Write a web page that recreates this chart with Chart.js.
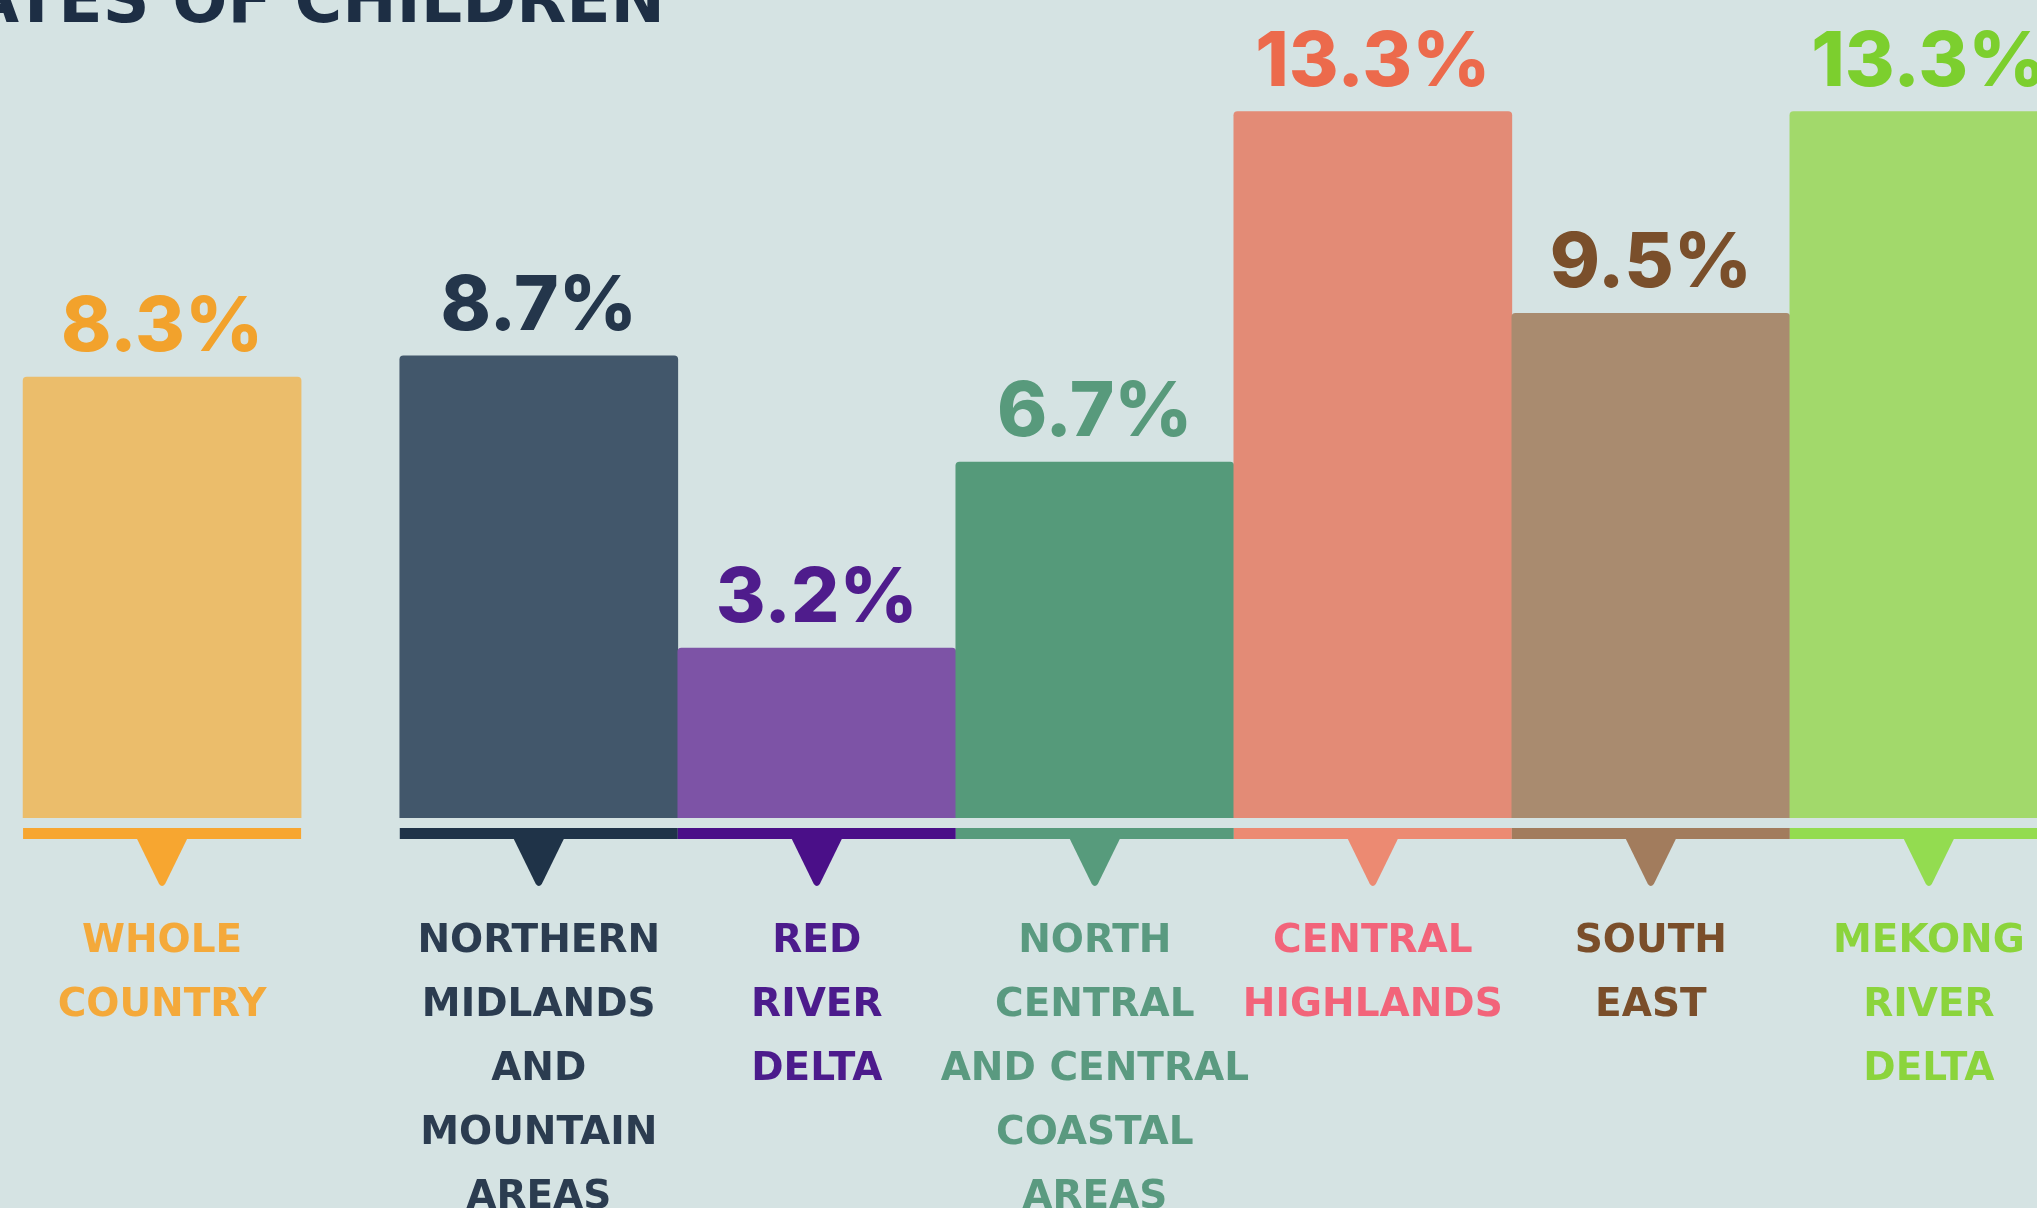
<!DOCTYPE html>
<html>
<head>
<meta charset="utf-8">
<script src="https://cdn.jsdelivr.net/npm/chart.js@4.4.1/dist/chart.umd.min.js"></script>
<style>
  html, body {
    margin: 0;
    padding: 0;
    overflow: hidden;
    background: #d5e3e3;
  }
  #wrap {
    position: relative;
    width: 2037px;
    height: 1208px;
    overflow: hidden;
  }
  #title {
    position: absolute;
    right: 1372px;
    top: -33px;
    font: bold 65px "DejaVu Sans", sans-serif;
    line-height: 65px;
    color: #1d2e44;
    white-space: nowrap;
  }
  #chart-box {
    position: absolute;
    left: 0;
    top: 0;
    width: 2037px;
    height: 1208px;
  }
</style>
</head>
<body>
<div id="wrap">
  <div id="title">RATES OF CHILDREN</div>
  <div id="chart-box"><canvas id="rateChart"></canvas></div>
</div>

<script>
// =========================
// DATA
// =========================

const regions = [
  ["WHOLE", "COUNTRY"],
  ["NORTHERN", "MIDLANDS", "AND", "MOUNTAIN", "AREAS"],
  ["RED", "RIVER", "DELTA"],
  ["NORTH", "CENTRAL", "AND CENTRAL", "COASTAL", "AREAS"],
  ["CENTRAL", "HIGHLANDS"],
  ["SOUTH", "EAST"],
  ["MEKONG", "RIVER", "DELTA"]
];

const rates = [8.3, 8.7, 3.2, 6.7, 13.3, 9.5, 13.3];

const valueLabels = ["8.3%", "8.7%", "3.2%", "6.7%", "13.3%", "9.5%", "13.3%"];

// =========================
// COLOURS
// =========================

const barColors =
  ["#ebbd6b", "#42576b", "#7d53a6", "#559a7a", "#e38b76", "#a98b6f", "#a2d96b"];

const lineColors =
  ["#f7a630", "#1f3348", "#4a0f88", "#579b7c", "#ec8a72", "#a27c5d", "#93dc50"];

const valueColors =
  ["#f2a22c", "#24364b", "#4f1c8c", "#589a7c", "#ec6a4c", "#7a4f2b", "#7ccf2e"];

const labelColors =
  ["#f4a93a", "#2b3c50", "#4c1b8c", "#5a9a80", "#f2647a", "#7a4e2a", "#8bd43c"];

// =========================
// LAYOUT (slot spacing)
// =========================

// whole country sits a bit apart from the regions
const firstGap = 0.355;

const slots =
  rates.map((v, i) => i === 0 ? 0 : i + firstGap);

// =========================
// PLUGINS
// =========================

// underline + pointer triangle below each bar, value above
const barDecor = {
  id: "barDecor",
  afterDatasetsDraw(chart)
  {
    const ctx = chart.ctx;
    const meta = chart.getDatasetMeta(0);

    meta.data.forEach((bar, i) =>
    {
      const half = bar.width / 2;
      const base = bar.base;

      ctx.save();

      // underline
      ctx.fillStyle = lineColors[i];
      ctx.fillRect(bar.x - half, base + 10, bar.width, 11);

      // pointer
      ctx.beginPath();
      ctx.moveTo(bar.x - 25, base + 21);
      ctx.lineTo(bar.x + 25, base + 21);
      ctx.lineTo(bar.x + 3, base + 66);
      ctx.quadraticCurveTo(bar.x, base + 70, bar.x - 3, base + 66);
      ctx.closePath();
      ctx.fill();

      // value
      ctx.fillStyle = valueColors[i];
      ctx.font = "800 76px Inter, sans-serif";
      ctx.textAlign = "center";
      ctx.textBaseline = "alphabetic";
      ctx.fillText(valueLabels[i], bar.x, bar.y - 26);

      ctx.restore();
    });
  }
};

// =========================
// CHART
// =========================

const ctx =
  document.getElementById("rateChart");

const rateChart =
new Chart(ctx, {
  type: "bar",
  data: {
    datasets: [
      {
        data: rates.map((v, i) => ({ x: slots[i], y: v })),
        backgroundColor: barColors,
        borderRadius: 4,
        borderSkipped: "bottom",
        categoryPercentage: 1,
        barPercentage: 1
      }
    ]
  },
  options: {
    responsive: true,
    maintainAspectRatio: false,
    animation: false,
    layout: { padding: 0 },
    plugins: {
      legend: { display: false },
      tooltip: { enabled: false }
    },
    scales: {
      x: {
        type: "linear",
        offset: false,
        min: -0.583,
        max: 6.744,
        border: { display: false },
        grid: { display: false, drawTicks: false },
        afterBuildTicks: (scale) =>
        {
          scale.ticks = slots.map(v => ({ value: v }));
        },
        afterFit: (scale) =>
        {
          scale.height = 390;
          scale.paddingLeft = 0;
          scale.paddingRight = 0;
        },
        ticks: {
          autoSkip: false,
          maxRotation: 0,
          minRotation: 0,
          padding: 92,
          font: {
            family: "DejaVu Sans",
            weight: "bold",
            size: 39,
            lineHeight: 1.64
          },
          color: (c) => labelColors[c.index],
          callback: (value, index) => regions[index]
        }
      },
      y: {
        display: false,
        min: 0,
        max: 15.4
      }
    }
  },
  plugins: [barDecor]
});
</script>
</body>
</html>
